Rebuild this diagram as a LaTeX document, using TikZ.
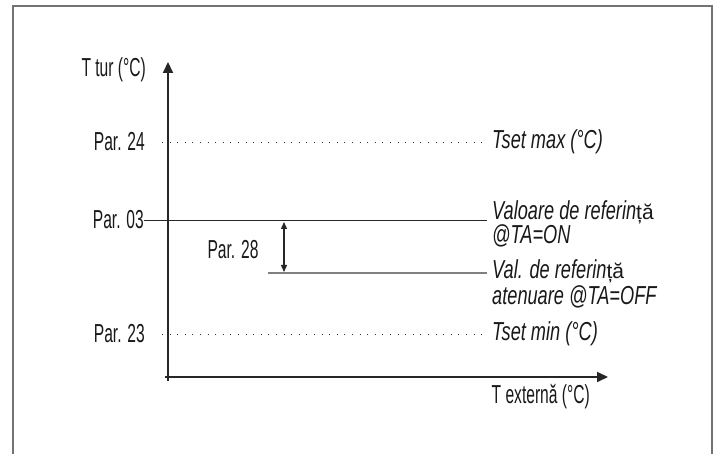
\documentclass[tikz,border=0pt]{standalone}
\usepackage{fontspec}
\setmainfont{Liberation Sans}[FakeStretch=0.6]
\newfontfamily\notefont{Liberation Sans}[FakeStretch=0.7]
\newfontfamily\widefont{Liberation Sans}
\usetikzlibrary{arrows.meta}
\begin{document}
\begin{tikzpicture}[x=1pt, y=-1pt,
    every node/.style={inner sep=0pt, font=\fontsize{26}{19}\selectfont, text=black!90},
    lbl/.style={anchor=east},
    note/.style={anchor=west, align=left, font=\fontsize{26}{19}\notefont\itshape},
    axis/.style={line width=2pt, black!85, -{Triangle[length=11pt, width=10pt]}},
    dotline/.style={line width=0.7pt, black!80, dash pattern=on 0.8pt off 6.8pt},
    refline/.style={line width=0.9pt, black!85},
    attline/.style={line width=1.5pt, black!50}]
    \useasboundingbox (0,0) rectangle (721,454);
    \draw[line width=1.3pt, black!55] (13,454) -- (13,6) -- (712,6) -- (712,454);

    % axes
    \coordinate (o) at (168,377);
    \coordinate (ytop) at (168,62);
    \coordinate (xend) at (608,377);
    \draw[axis] (168,381) -- (ytop);
    \draw[axis] (165,377) -- (xend);
    \node[lbl] (ttur) at (146,70) {T tur (°C)};
    \node[anchor=east] (text) at (590,397) {T extern\u{a} (°C)};

    % left labels
    \node[lbl] (p24) at (145,142) {Par. 24};
    \node[lbl] (p03) at (144,220) {Par. 03};
    \node[lbl] (p23) at (145,334) {Par. 23};
    \node (p28) at (233,250) {Par. 28};

    % right labels
    \node[note] (tmax) at (492,142) {Tset max (°C)};
    \node[note] (von) at (492,224) {Valoare de referin{\upshape\widefont\fontsize{21}{19}\selectfont ță}\\@TA=ON};
    \node[note] (voff) at (492,284) {Val. de referin{\upshape\widefont\fontsize{21}{19}\selectfont ță}\\[2pt]atenuare @TA=OFF};
    \node[note] (tmin) at (492,334) {Tset min (°C)};

    % levels
    \coordinate (d24) at (162,142);
    \coordinate (d23) at (162,334);
    \coordinate (a0) at (268,273);
    \coordinate (vend) at (487,220);
    \coordinate (aend) at (487,273);
    \draw[dotline] (d24) -- ([xshift=-4pt]tmax.west);
    \draw[dotline] (d23) -- ([xshift=-4pt]tmin.west);
    \draw[refline] (p03.east) -- (vend);
    \draw[attline] (a0) -- (aend);
    \draw[line width=1.3pt, black!85, {Triangle[length=7pt, width=6pt]}-{Triangle[length=7pt, width=6pt]}] (284,222) -- (284,272);
\end{tikzpicture}
\end{document}
